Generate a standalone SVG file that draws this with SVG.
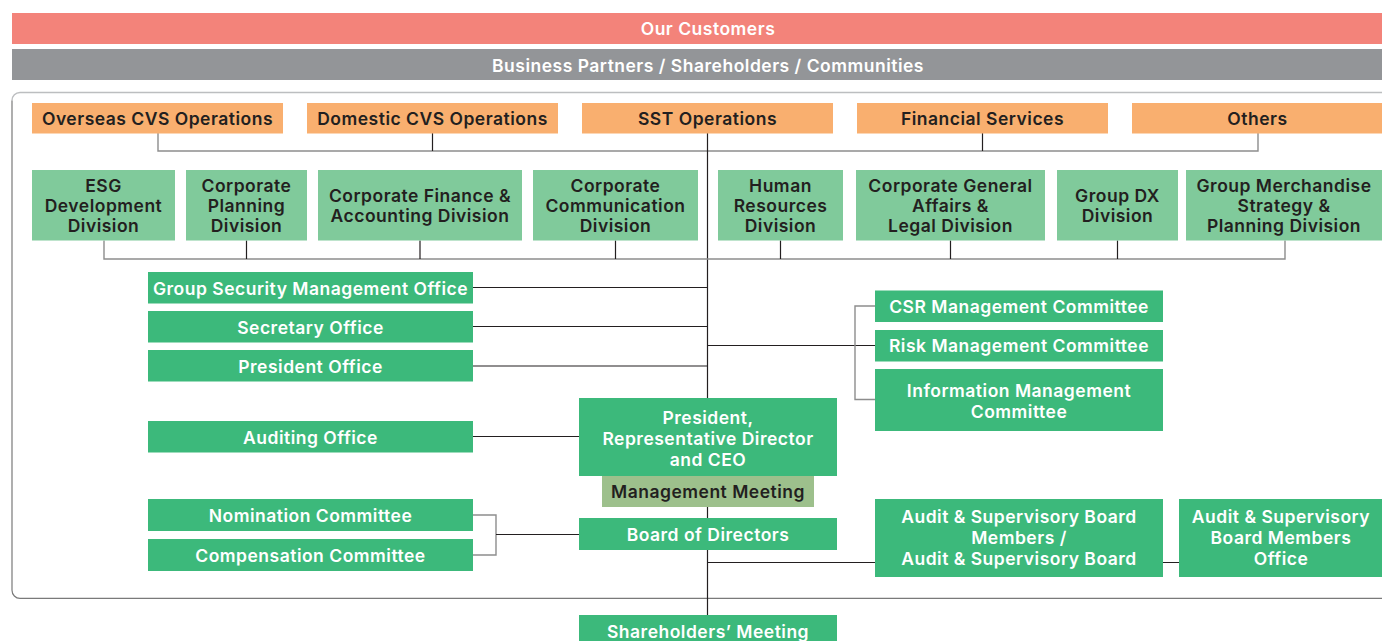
<svg xmlns="http://www.w3.org/2000/svg" width="1382" height="641" viewBox="0 0 1382 641">
<style>
text{font-family:Inter,"Open Sans","Liberation Sans",sans-serif;font-weight:600;font-size:17.5px;letter-spacing:0.5px;text-anchor:middle}
.w{fill:#ffffff}
.d{fill:#231f20}
.red{fill:#f3837a}
.gray{fill:#939598}
.org{fill:#f9af6f}
.lg{fill:#80ca9b}
.g{fill:#3cb97b}
.mm{fill:#9dc08c}
.ln{stroke:#231f20;stroke-width:1.2;fill:none}
.gl{stroke:#8d8d8d;stroke-width:1.4;fill:none}
</style>

<g id="frame">
<path d="M1382 92.5 H20 A8 8 0 0 0 12 100.5" stroke="#bcbec0" stroke-width="1.4" fill="none"/>
<path d="M12 100.5 V590.3 A8 8 0 0 0 20 598.3 H1382" stroke="#7a7a7a" stroke-width="1.2" fill="none"/>
</g>

<g id="connectors">
<path class="gl" d="M158 133 V151 H1258 V133"/>
<path class="ln" d="M432.5 133 V151 M982.5 133 V151"/>
<path class="ln" d="M707.5 133 V398 M707.5 507 V518 M707.5 550 V615"/>
<path class="gl" d="M104 240.5 V259 H1285 V240.5"/>
<path class="ln" d="M246.5 240.5 V259 M420 240.5 V259 M615.5 240.5 V259 M780.5 240.5 V259 M950.5 240.5 V259 M1117.5 240.5 V259"/>
<path class="ln" d="M473 287.5 H707.5 M473 326.5 H707.5 M473 366 H707.5 M473 436.5 H579"/>
<path class="ln" d="M707.5 345.5 H875"/>
<path class="gl" d="M875 306 H855 V399.5 H875"/>
<path class="gl" d="M473 515 H496 V555 H473"/>
<path class="ln" d="M496 534.5 H579"/>
<path class="ln" d="M707.5 562.5 H875 M1163 562.5 H1179"/>
</g>

<g id="our-customers"><rect class="red" x="12" y="13" width="1370" height="31"/><text class="w" x="708" y="34.5">Our Customers</text></g>
<g id="stakeholders"><rect class="gray" x="12" y="49" width="1370" height="31"/><text class="w" x="708" y="71.5">Business Partners / Shareholders / Communities</text></g>

<g id="overseas-cvs"><rect class="org" x="32" y="103" width="251" height="30.5"/><text class="d" x="157.5" y="124.5">Overseas CVS Operations</text></g>
<g id="domestic-cvs"><rect class="org" x="307" y="103" width="251" height="30.5"/><text class="d" x="432.5" y="124.5">Domestic CVS Operations</text></g>
<g id="sst"><rect class="org" x="582" y="103" width="251" height="30.5"/><text class="d" x="707.5" y="124.5">SST Operations</text></g>
<g id="financial"><rect class="org" x="857" y="103" width="251" height="30.5"/><text class="d" x="982.5" y="124.5">Financial Services</text></g>
<g id="others"><rect class="org" x="1132" y="103" width="251" height="30.5"/><text class="d" x="1257.5" y="124.5">Others</text></g>

<g id="esg"><rect class="lg" x="32" y="170" width="143" height="70.5"/><text class="d" x="103.5" y="192">ESG</text><text class="d" x="103.5" y="212">Development</text><text class="d" x="103.5" y="232">Division</text></g>
<g id="corp-planning"><rect class="lg" x="186" y="170" width="121" height="70.5"/><text class="d" x="246.5" y="192">Corporate</text><text class="d" x="246.5" y="212">Planning</text><text class="d" x="246.5" y="232">Division</text></g>
<g id="corp-finance"><rect class="lg" x="318" y="170" width="204" height="70.5"/><text class="d" x="420" y="202">Corporate Finance &amp;</text><text class="d" x="420" y="222">Accounting Division</text></g>
<g id="corp-comm"><rect class="lg" x="533" y="170" width="165" height="70.5"/><text class="d" x="615.5" y="192">Corporate</text><text class="d" x="615.5" y="212">Communication</text><text class="d" x="615.5" y="232">Division</text></g>
<g id="hr"><rect class="lg" x="718" y="170" width="125" height="70.5"/><text class="d" x="780.5" y="192">Human</text><text class="d" x="780.5" y="212">Resources</text><text class="d" x="780.5" y="232">Division</text></g>
<g id="general-affairs"><rect class="lg" x="856" y="170" width="189" height="70.5"/><text class="d" x="950.5" y="192">Corporate General</text><text class="d" x="950.5" y="212">Affairs &amp;</text><text class="d" x="950.5" y="232">Legal Division</text></g>
<g id="group-dx"><rect class="lg" x="1057" y="170" width="121" height="70.5"/><text class="d" x="1117.5" y="202">Group DX</text><text class="d" x="1117.5" y="222">Division</text></g>
<g id="merchandise"><rect class="lg" x="1186" y="170" width="196" height="70.5"/><text class="d" x="1284" y="192">Group Merchandise</text><text class="d" x="1284" y="212">Strategy &amp;</text><text class="d" x="1284" y="232">Planning Division</text></g>

<g id="group-security"><rect class="g" x="148" y="272" width="325" height="31.5"/><text class="w" x="310.5" y="294.5">Group Security Management Office</text></g>
<g id="secretary"><rect class="g" x="148" y="311" width="325" height="31.5"/><text class="w" x="310.5" y="333.5">Secretary Office</text></g>
<g id="president-office"><rect class="g" x="148" y="350" width="325" height="31.5"/><text class="w" x="310.5" y="372.5">President Office</text></g>
<g id="auditing-office"><rect class="g" x="148" y="421" width="325" height="31.5"/><text class="w" x="310.5" y="443.5">Auditing Office</text></g>

<g id="csr"><rect class="g" x="875" y="290.5" width="288" height="31.5"/><text class="w" x="1019" y="312.5">CSR Management Committee</text></g>
<g id="risk"><rect class="g" x="875" y="330" width="288" height="31.5"/><text class="w" x="1019" y="352">Risk Management Committee</text></g>
<g id="info"><rect class="g" x="875" y="369" width="288" height="62"/><text class="w" x="1019" y="396.5">Information Management</text><text class="w" x="1019" y="417.5">Committee</text></g>

<g id="president"><rect class="g" x="579" y="398" width="258" height="78"/><text class="w" x="708" y="423.5">President,</text><text class="w" x="708" y="444.5">Representative Director</text><text class="w" x="708" y="466">and CEO</text></g>
<g id="management-meeting"><rect class="mm" x="602" y="476" width="212" height="31"/><text class="d" x="708" y="498">Management Meeting</text></g>
<g id="board"><rect class="g" x="579" y="518" width="258" height="32"/><text class="w" x="708" y="540.5">Board of Directors</text></g>

<g id="nomination"><rect class="g" x="148" y="499" width="325" height="32"/><text class="w" x="310.5" y="521.5">Nomination Committee</text></g>
<g id="compensation"><rect class="g" x="148" y="539" width="325" height="32"/><text class="w" x="310.5" y="561.5">Compensation Committee</text></g>

<g id="audit-board"><rect class="g" x="875" y="499" width="288" height="78"/><text class="w" x="1019" y="522.5">Audit &amp; Supervisory Board</text><text class="w" x="1019" y="543.5">Members /</text><text class="w" x="1019" y="565">Audit &amp; Supervisory Board</text></g>
<g id="audit-office"><rect class="g" x="1179" y="499" width="203" height="78"/><text class="w" x="1281" y="522.5">Audit &amp; Supervisory</text><text class="w" x="1281" y="543.5">Board Members</text><text class="w" x="1281" y="565">Office</text></g>

<g id="shareholders"><rect class="g" x="579" y="615" width="258" height="40"/><text class="w" x="708" y="637.5">Shareholders’ Meeting</text></g>
</svg>
